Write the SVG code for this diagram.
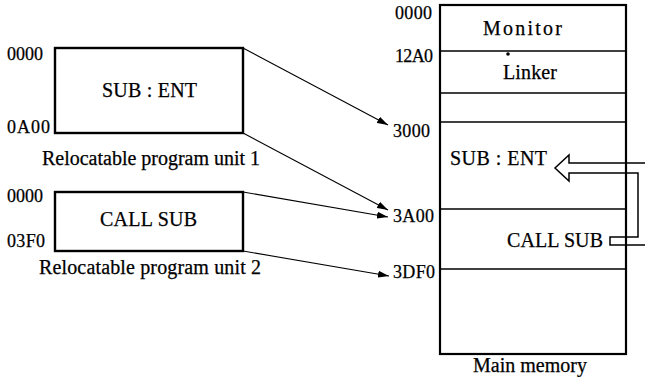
<svg xmlns="http://www.w3.org/2000/svg" width="645" height="377" viewBox="0 0 645 377">
<defs>
<style>
.box{fill:#fff;stroke:#000;stroke-width:2.4}
.mem{fill:#fff;stroke:#000;stroke-width:2.2}
.div{stroke:#000;stroke-width:1.4;fill:none}
.conn{stroke:#000;stroke-width:1.1;fill:none;marker-end:url(#ah)}
.tube{fill:none;stroke:#000;stroke-width:1.5;stroke-linejoin:miter}
.w{font-size:20px}
.n{font-size:18px}
</style>
<marker id="ah" markerWidth="12" markerHeight="8" refX="11" refY="4" orient="auto" markerUnits="userSpaceOnUse">
<path d="M0,0.5 L11,4 L0,7.5 Z" fill="#000"/>
</marker>
</defs>
<rect width="645" height="377" fill="#fff"/>

<g font-family="'Liberation Serif', 'Times New Roman', serif" fill="#000" stroke="#000" stroke-width="0.25">
<g id="unit1">
<rect class="box" x="55" y="48" width="188" height="85"/>
<text class="w" x="102" y="97" textLength="95" lengthAdjust="spacing">SUB : ENT</text>
<text class="n" x="7" y="60" textLength="36" lengthAdjust="spacing">0000</text>
<text class="n" x="7" y="133" textLength="43" lengthAdjust="spacing">0A00</text>
<text class="w" x="42" y="165" textLength="218" lengthAdjust="spacing">Relocatable program unit 1</text>
</g>

<g id="unit2">
<rect class="box" x="55" y="192" width="188" height="59"/>
<text class="w" x="100" y="226" textLength="97" lengthAdjust="spacing">CALL SUB</text>
<text class="n" x="7" y="202" textLength="36" lengthAdjust="spacing">0000</text>
<text class="n" x="7" y="247" textLength="38" lengthAdjust="spacing">03F0</text>
<text class="w" x="39" y="274" textLength="222" lengthAdjust="spacing">Relocatable program unit 2</text>
</g>

<g id="memory">
<rect class="mem" x="440" y="5" width="186" height="349"/>
<line class="div" x1="440" y1="51" x2="626" y2="51"/>
<line class="div" x1="440" y1="93" x2="626" y2="93"/>
<line class="div" x1="440" y1="122" x2="626" y2="122"/>
<line class="div" x1="440" y1="209" x2="626" y2="209"/>
<line class="div" x1="440" y1="269" x2="626" y2="269"/>
<circle cx="508" cy="54" r="1.8" fill="#000" stroke="none"/>
<text class="n" x="395" y="19" textLength="37" lengthAdjust="spacing">0000</text>
<text class="w" x="483" y="35" textLength="79" lengthAdjust="spacing">Monitor</text>
<text class="n" x="395" y="62" textLength="38" lengthAdjust="spacing">12A0</text>
<text class="w" x="503" y="79" textLength="54" lengthAdjust="spacing">Linker</text>
<text class="n" x="393" y="137" textLength="37" lengthAdjust="spacing">3000</text>
<text class="w" x="450" y="165" textLength="97" lengthAdjust="spacing">SUB : ENT</text>
<text class="n" x="393" y="222" textLength="41" lengthAdjust="spacing">3A00</text>
<text class="w" x="507" y="247" textLength="96" lengthAdjust="spacing">CALL SUB</text>
<text class="n" x="393" y="278" textLength="42" lengthAdjust="spacing">3DF0</text>
<text class="w" x="473" y="372" textLength="114" lengthAdjust="spacing">Main memory</text>
</g>
</g>

<g id="call-link">
<path class="tube" d="M645,163 L569,163 L569,155 L555,168 L569,181 L569,173 L638,173 L638,237 L610,237 L610,245 L645,245"/>
</g>

<g id="connectors">
<line class="conn" x1="243" y1="48" x2="388" y2="125"/>
<line class="conn" x1="243" y1="133" x2="388" y2="210"/>
<line class="conn" x1="243" y1="192" x2="388" y2="217"/>
<line class="conn" x1="243" y1="251" x2="389" y2="276"/>
</g>
</svg>
